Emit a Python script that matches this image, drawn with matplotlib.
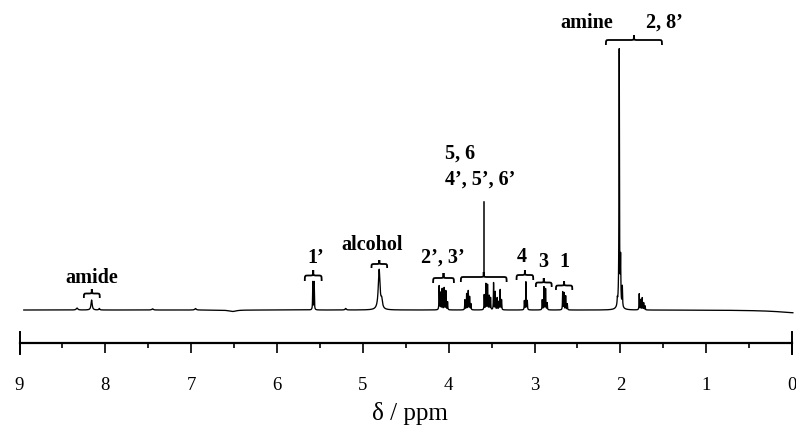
import numpy as np
import matplotlib.pyplot as plt
from matplotlib.path import Path
from matplotlib.patches import PathPatch

plt.rcParams["font.family"] = ["Liberation Serif", "DejaVu Serif"]

# peaks: shift (ppm), height (px above baseline), half width (ppm)
amide_ppm = [8.33, 8.16, 8.07]
amide_h = [2, 10, 1.5]
amide_w = [0.01, 0.008, 0.006]

noise_ppm = [7.45, 6.95, 6.52, 5.20, -0.10]
noise_h = [1.2, 1.5, -1.5, 1.5, -3]
noise_w = [0.01, 0.01, 0.05, 0.008, 0.3]

h1p_ppm = [5.583, 5.567]
h1p_h = [28, 28]

alcohol_ppm = [4.81, 4.78]
alcohol_h = [40, 8]
alcohol_w = [0.012, 0.01]

h23p_ppm = [4.111, 4.095, 4.076, 4.053, 4.033, 4.013]
h23p_h = [24, 17, 21, 22, 19, 8]

h38_ppm = [3.811, 3.791, 3.772, 3.756, 3.741]
h38_h = [10, 16, 19, 13, 6]

h35_ppm = [3.586, 3.566, 3.547, 3.528, 3.512, 3.477, 3.458, 3.435, 3.415, 3.400, 3.384]
h35_h = [15, 26, 25, 14, 12, 27, 18, 12, 8, 20, 10]

h4_ppm = [3.118, 3.100, 3.084]
h4_h = [9, 28, 9]

h3_ppm = [2.910, 2.890, 2.871, 2.852]
h3_h = [10, 23, 21, 7]

h1_ppm = [2.672, 2.657, 2.637, 2.618]
h1_h = [18, 17, 14, 6]

amine_ppm = [2.035, 2.013, 1.997, 1.977, 2.010]
amine_h = [6, 252, 43, 20, 8]
amine_w = [0.003, 0.003, 0.003, 0.003, 0.02]

h28p_ppm = [1.780, 1.763, 1.745, 1.728, 1.712]
h28p_h = [16, 10, 12, 7, 4]

SHARP = 0.0025

# labels: text, ppm, baseline height, brace (left, right, bottom, top)
labels = ["amide", "1\u2019", "alcohol", "2\u2019, 3\u2019", "4", "3", "1"]
label_x = [8.163, 5.55, 4.89, 4.07, 3.147, 2.90, 2.65]
label_y = [27, 47, 60, 47, 48, 43, 43]
brace_l = [8.25, 5.676, 4.899, 4.181, 3.209, 2.984, 2.75]
brace_r = [8.065, 5.48, 4.717, 3.939, 3.015, 2.80, 2.56]
brace_b = [12, 29, 42, 27, 30, 23, 20]
brace_t = [21, 40, 50, 37, 40, 32, 29]

peaks = []
for pp, hh, ww in [(amide_ppm, amide_h, amide_w), (noise_ppm, noise_h, noise_w),
                   (alcohol_ppm, alcohol_h, alcohol_w), (amine_ppm, amine_h, amine_w)]:
    peaks += list(zip(pp, hh, ww))
for pp, hh in [(h1p_ppm, h1p_h), (h23p_ppm, h23p_h), (h38_ppm, h38_h), (h35_ppm, h35_h),
               (h4_ppm, h4_h), (h3_ppm, h3_h), (h1_ppm, h1_h), (h28p_ppm, h28p_h)]:
    peaks += [(p, h, SHARP) for p, h in zip(pp, hh)]

x = np.linspace(8.95, -0.01, 30000)
y = np.zeros_like(x)
for p, h, w in peaks:
    y += h / (1 + ((x - p) / w) ** 2)

fig = plt.figure(figsize=(7.96, 4.30), dpi=100)
ax = fig.add_axes([19.5 / 796, 87 / 430, 772.5 / 796, 303 / 430])
ax.set_xlim(9, 0)
ax.set_ylim(-33, 270)
ppm_per_px = 9 / 772.5

ax.plot(x, y, color="black", lw=0.95, clip_on=False)

for s in ["top", "left", "right"]:
    ax.spines[s].set_visible(False)
ax.spines["bottom"].set_linewidth(1.6)
ax.set_yticks([])
ax.set_xticks(np.arange(0, 10, 1))
ax.set_xticks(np.arange(0.5, 9, 1), minor=True)
ax.tick_params(axis="x", which="major", length=7.5, width=1.2, labelsize=13.5, pad=17)
ax.tick_params(axis="x", which="minor", length=3.8, width=1.2)
for e in [9, 0]:
    ax.plot([e, e], [-22, -44], color="black", lw=1.4, clip_on=False)

fig.text(410 / 796, 1 - 420 / 430, "\u03b4 / ppm", ha="center", va="baseline", fontsize=18)


def brace(xl, xr, yb, yt):
    r = 3.5 * ppm_per_px
    xc = (xl + xr) / 2
    ym = yb + 0.5 * (yt - yb)
    verts = [(xl, yb), (xl, ym), (xl, ym), (xl - r, ym), (xc + r, ym),
             (xc, ym), (xc, ym), (xc, yt), (xc, ym), (xc, ym), (xc - r, ym),
             (xr + r, ym), (xr, ym), (xr, ym), (xr, yb)]
    codes = [Path.MOVETO] + [Path.CURVE4] * 3 + [Path.LINETO] + [Path.CURVE4] * 6 + \
            [Path.LINETO] + [Path.CURVE4] * 3
    ax.add_patch(PathPatch(Path(verts, codes), fill=False, lw=1.3, color="black", clip_on=False))


lab_kw = dict(fontsize=14.5, fontweight="bold", va="baseline")
for t, lx, ly, bl, br, bb, bt in zip(labels, label_x, label_y, brace_l, brace_r, brace_b, brace_t):
    ax.text(lx, ly, t, ha="center", **lab_kw)
    brace(bl, br, bb, bt)

# the long group 5, 6 / 4', 5', 6'
brace(3.858, 3.325, 28, 38)
ax.plot([3.5915, 3.5915], [38, 108], color="black", lw=1.1, clip_on=False)
ax.text(4.044, 151, "5, 6", ha="left", **lab_kw)
ax.text(4.044, 125, "4\u2019, 5\u2019, 6\u2019", ha="left", **lab_kw)

# amine and 2, 8' at the top
brace(2.168, 1.515, 265, 275)
ax.text(2.39, 282, "amine", ha="center", **lab_kw)
ax.text(1.49, 282, "2, 8\u2019", ha="center", **lab_kw)

fig.savefig("out.png", dpi=100)
